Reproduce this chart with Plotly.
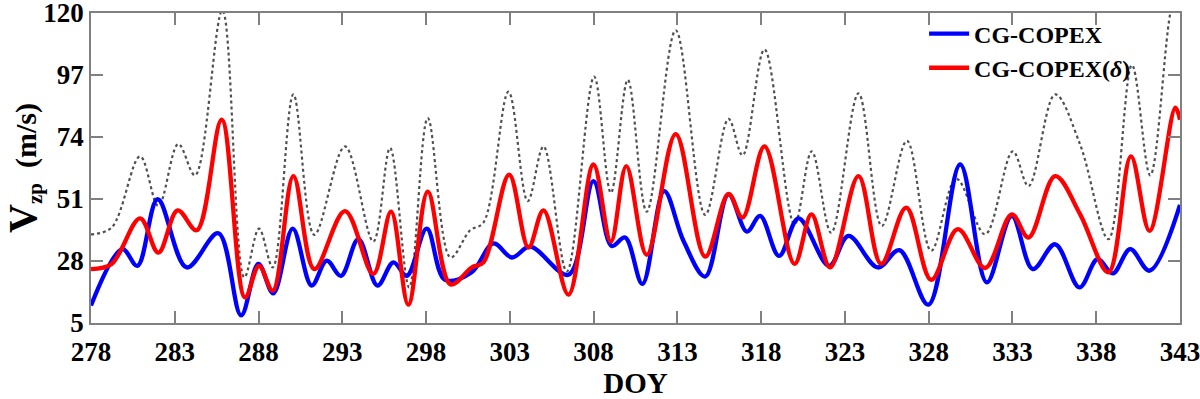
import plotly.graph_objects as go

# ---- data ----
blue_doy = [278.0, 279.87, 280.77, 281.98, 283.71, 285.6, 286.96, 287.99, 288.88, 290.04,
            291.17, 292.07, 292.92, 293.96, 295.1, 296.05, 296.85, 298.04, 299.13, 300.72,
            302.02, 303.12, 304.21, 306.5, 307.99, 309.08, 309.88, 310.91, 312.21, 313.36,
            314.66, 316.05, 317.15, 317.94, 319.07, 320.23, 322.06, 323.21, 324.96, 326.25,
            327.98, 329.88, 331.47, 332.96, 334.21, 335.55, 337.0, 338.08, 338.99, 340.03,
            341.18, 343.0]
blue_v = [11.5, 32.4, 26.2, 50.9, 25.6, 38.3, 7.8, 26.9, 16.0, 40.0,
          18.9, 28.1, 22.5, 36.1, 18.9, 27.5, 22.5, 40.0, 21.0, 23.8,
          34.5, 29.3, 33.3, 22.9, 57.6, 33.6, 36.7, 19.5, 53.9, 35.5,
          22.2, 52.7, 38.9, 44.7, 29.9, 43.8, 26.2, 37.3, 25.6, 32.0,
          11.8, 63.8, 20.1, 44.7, 25.0, 34.2, 18.2, 28.7, 23.4, 32.4,
          24.4, 48.8]

red_doy = [278.0, 279.23, 280.93, 282.02, 283.17, 284.31, 285.8, 287.19, 288.03, 288.85,
           290.08, 291.33, 293.16, 294.85, 295.91, 296.94, 298.1, 299.46, 300.72, 301.42,
           302.96, 304.11, 305.01, 306.5, 307.99, 309.03, 309.95, 311.17, 312.9, 314.66,
           316.05, 316.89, 318.2, 319.99, 321.0, 322.12, 323.81, 325.16, 326.66, 328.15,
           329.74, 331.37, 332.96, 333.96, 335.55, 337.04, 338.73, 340.07, 341.18, 342.72,
           343.0]
red_v = [25.0, 26.9, 43.8, 31.1, 46.8, 39.4, 80.4, 14.5, 26.2, 17.0,
         59.5, 25.0, 46.5, 23.2, 46.3, 11.8, 53.7, 19.3, 25.6, 27.5,
         60.0, 33.0, 46.8, 15.5, 63.8, 35.2, 63.2, 30.3, 75.1, 29.6,
         52.9, 44.1, 70.5, 26.9, 45.3, 25.6, 59.5, 26.9, 47.8, 21.0,
         39.8, 25.4, 45.3, 36.7, 59.5, 45.3, 23.8, 66.8, 39.2, 84.9,
         80.4]

gray_doy = [278.0, 279.23, 280.93, 282.02, 283.21, 284.21, 285.84, 287.15, 288.03, 288.85,
            290.08, 291.33, 293.16, 294.85, 295.85, 296.99, 298.1, 299.46, 300.63, 301.42,
            302.92, 304.07, 305.01, 306.4, 308.03, 309.03, 310.04, 311.17, 312.9, 314.66,
            316.05, 316.89, 318.2, 319.99, 321.02, 322.18, 323.81, 325.2, 326.7, 328.15,
            329.65, 331.37, 333.02, 333.96, 335.55, 337.04, 338.73, 340.13, 341.22, 342.42,
            343.0]
gray_v = [37.9, 40.4, 66.8, 48.4, 71.4, 59.8, 121.0, 21.9, 40.0, 25.6,
          89.8, 37.7, 70.5, 35.2, 69.9, 18.2, 81.0, 29.3, 39.4, 42.2,
          90.8, 50.2, 70.5, 24.1, 96.4, 53.3, 95.2, 46.3, 113.6, 45.1,
          80.7, 67.2, 106.5, 41.6, 68.7, 38.5, 90.2, 41.0, 72.6, 31.8,
          58.5, 37.9, 68.7, 55.8, 89.8, 71.2, 36.1, 100.7, 59.8, 120.0,
          135.0]

x_ticks = [278, 283, 288, 293, 298, 303, 308, 313, 318, 323, 328, 333, 338, 343]
y_ticks = [5, 28, 51, 74, 97, 120]

SERIF = "Liberation Serif, Times New Roman, serif"

fig = go.Figure()
fig.add_trace(go.Scatter(x=gray_doy, y=gray_v, mode="lines", showlegend=False,
                         line=dict(color="#505050", width=2.2, dash="dot", shape="spline", smoothing=1.0)))
fig.add_trace(go.Scatter(x=blue_doy, y=blue_v, mode="lines", name="CG-COPEX",
                         line=dict(color="#0000ff", width=4.3, shape="spline", smoothing=1.0)))
fig.add_trace(go.Scatter(x=red_doy, y=red_v, mode="lines", name="CG-COPEX(<i>δ</i>)",
                         line=dict(color="#ff0000", width=4.3, shape="spline", smoothing=1.0)))

axis_common = dict(showgrid=False, zeroline=False, showline=True, linecolor="#808080", linewidth=1.5,
                   mirror="ticks", ticks="inside", ticklen=12, tickwidth=1.5, tickcolor="#808080",
                   automargin=False, ticklabeloverflow="allow",
                   tickfont=dict(family=SERIF, size=27, color="black", weight="bold"))

fig.update_layout(
    width=1200, height=399,
    margin=dict(l=91, r=20, t=11, b=76),
    plot_bgcolor="white", paper_bgcolor="white",
    xaxis=dict(range=[278, 343], tickvals=x_ticks, ticktext=[str(t) for t in x_ticks],
               ticklabelstandoff=4,
               title=dict(text="<b>DOY</b>", font=dict(family=SERIF, size=29, color="black"), standoff=0),
               **axis_common),
    yaxis=dict(range=[5, 120], tickvals=y_ticks, ticktext=[str(t) for t in y_ticks],
               title=dict(text="<b><span style='font-size:40px'>V</span><sub>zp</sub>  (m/s)</b>",
                          font=dict(family=SERIF, size=30, color="black"), standoff=10),
               **axis_common),
    legend=dict(x=0.765, y=1.005, xanchor="left", yanchor="top", bgcolor="rgba(0,0,0,0)",
                font=dict(family=SERIF, size=24, color="black", weight="bold"),
                itemwidth=40, tracegroupgap=0),
)

fig.write_html("out.html", config={"displayModeBar": False},
               post_script="document.body.style.margin='0';document.body.style.overflow='hidden';")
